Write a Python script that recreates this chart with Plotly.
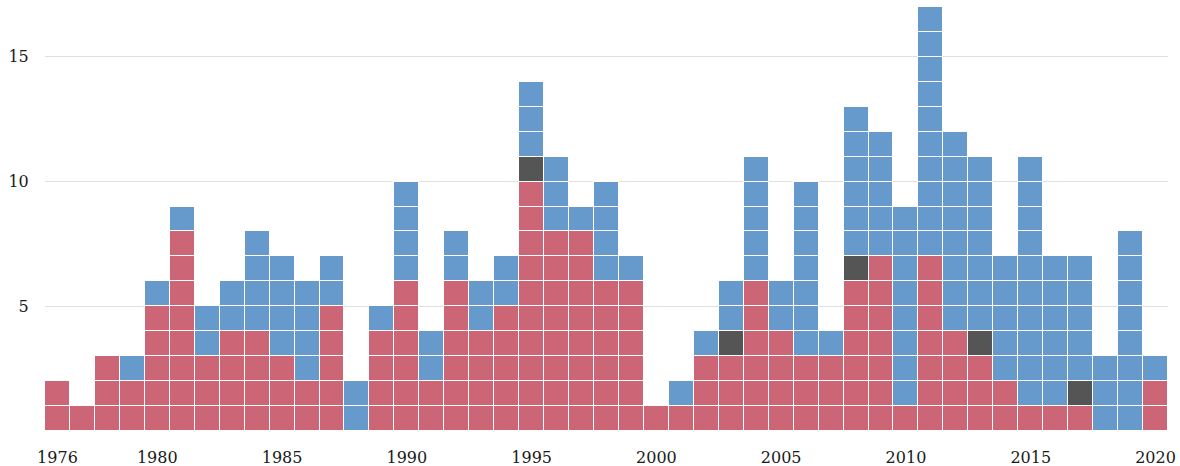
import plotly.graph_objects as go

years = list(range(1976, 2021))
red = [2, 1, 3, 2, 5, 8, 3, 4, 4, 3, 2, 5, 0, 4, 6, 2, 6, 4, 5, 10, 8, 8, 6, 6, 1,
       1, 3, 3, 6, 4, 3, 3, 6, 7, 1, 7, 4, 3, 2, 1, 1, 1, 0, 0, 2]
gray = [0, 0, 0, 0, 0, 0, 0, 0, 0, 0, 0, 0, 0, 0, 0, 0, 0, 0, 0, 1, 0, 0, 0, 0, 0,
        0, 0, 1, 0, 0, 0, 0, 1, 0, 0, 0, 0, 1, 0, 0, 0, 1, 0, 0, 0]
blue = [0, 0, 0, 1, 1, 1, 2, 2, 4, 4, 4, 2, 2, 1, 4, 2, 2, 2, 2, 3, 3, 1, 4, 1, 0,
        1, 1, 2, 5, 2, 7, 1, 6, 5, 8, 10, 8, 7, 5, 10, 6, 5, 3, 8, 1]
x_ticks = [1976, 1980, 1985, 1990, 1995, 2000, 2005, 2010, 2015, 2020]
y_ticks = [5, 10, 15]

RED = "#CC6677"
GRAY = "#555555"
BLUE = "#6699CC"

totals = [r + g + b for r, g, b in zip(red, gray, blue)]
max_total = max(totals)

fig = go.Figure()
for k in range(max_total):
    ys, cols = [], []
    for r, g, b in zip(red, gray, blue):
        t = r + g + b
        if k < t:
            ys.append(1)
            cols.append(RED if k < r else (GRAY if k < r + g else BLUE))
        else:
            ys.append(0)
            cols.append("rgba(0,0,0,0)")
    fig.add_trace(go.Bar(
        x=years, y=ys,
        marker=dict(color=cols, line=dict(color="white", width=1.2)),
        showlegend=False, hoverinfo="skip",
    ))

fig.update_layout(
    barmode="stack",
    bargap=0,
    width=1180, height=466,
    autosize=False,
    margin=dict(l=45, r=12, t=7, b=35, pad=0),
    plot_bgcolor="white", paper_bgcolor="white",
    font=dict(family="DejaVu Serif, Liberation Serif, serif", size=16, color="#1a1a1a"),
)
fig.update_xaxes(
    range=[1975.5, 2020.5],
    tickvals=x_ticks,
    showgrid=False, zeroline=False, showline=False,
    ticks="outside", ticklen=12, tickcolor="rgba(0,0,0,0)",
    automargin=False,
)
fig.update_yaxes(
    range=[0, 17],
    tickvals=y_ticks,
    showgrid=True, gridcolor="#e0e0e0", gridwidth=1,
    zeroline=False, showline=False,
    ticks="outside", ticklen=12, tickcolor="rgba(0,0,0,0)",
    automargin=False,
)

fig.write_html(
    "out.html",
    config={"displayModeBar": False},
    post_script="document.body.style.margin='0';document.body.style.overflow='hidden';",
)
